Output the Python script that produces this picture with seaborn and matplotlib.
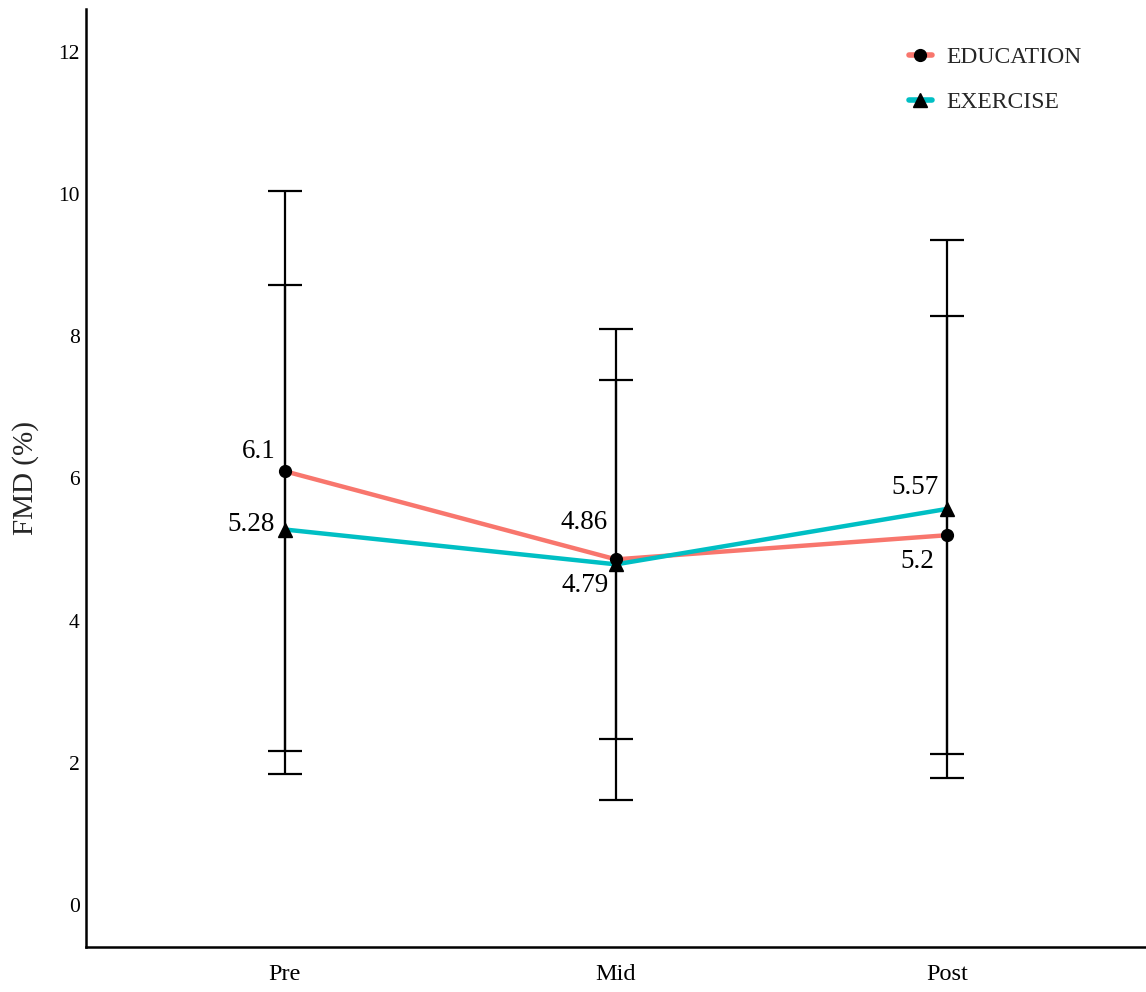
import matplotlib.pyplot as plt
import seaborn as sns
import pandas as pd
from matplotlib.lines import Line2D

# data
time_points = ['Pre', 'Mid', 'Post']
education_mean = [6.1, 4.86, 5.2]
education_sd = [3.94, 2.52, 3.08]
exercise_mean = [5.28, 4.79, 5.57]
exercise_sd = [3.44, 3.31, 3.78]
y_ticks = [0, 2, 4, 6, 8, 10, 12]

edu_color = '#F8766D'
exe_color = '#00BFC4'

df = pd.DataFrame({
    'Time': time_points * 2,
    'FMD': education_mean + exercise_mean,
    'SD': education_sd + exercise_sd,
    'Group': ['EDUCATION'] * 3 + ['EXERCISE'] * 3,
})

sns.set_style('white')
plt.rcParams['font.family'] = ['Liberation Serif', 'DejaVu Serif']

fig = plt.figure(figsize=(11.46, 9.92), dpi=100)
ax = fig.add_axes([0.075, 0.0454, 0.925, 0.9456])

# error bars (one per group)
for grp in ['EDUCATION', 'EXERCISE']:
    sub = df[df['Group'] == grp]
    ax.errorbar(sub['Time'], sub['FMD'], yerr=sub['SD'], fmt='none',
                ecolor='black', elinewidth=1.6, capsize=12.5, capthick=1.6, zorder=1)

sns.lineplot(data=df, x='Time', y='FMD', hue='Group', sort=False,
             palette={'EDUCATION': edu_color, 'EXERCISE': exe_color},
             linewidth=3.2, legend=False, ax=ax, zorder=2)

edu = df[df['Group'] == 'EDUCATION']
exe = df[df['Group'] == 'EXERCISE']
ax.plot(edu['Time'], edu['FMD'], 'o', color='black', markersize=8.5, linestyle='none', zorder=3)
ax.plot(exe['Time'], exe['FMD'], '^', color='black', markersize=9.5, linestyle='none', zorder=3)

# value labels (offset in pixels: dx, dy)
edu_off = [(-9, 20), (-8, 37), (-13, -26)]
exe_off = [(-10, 5), (-7, -21), (-9, 21)]
for i, t in enumerate(time_points):
    for means, offs in ((education_mean, edu_off), (exercise_mean, exe_off)):
        ax.annotate(f'{means[i]:g}', (i, means[i]), xytext=offs[i], textcoords='offset pixels',
                    ha='right', va='center', fontsize=19.5, color='black')

ax.set_xlim(-0.6, 2.6)
ax.set_ylim(-0.59, 12.6)
ax.set_yticks(y_ticks)
ax.set_xlabel('')
ax.set_ylabel('FMD (%)', fontsize=21, labelpad=14)

for side in ['top', 'right']:
    ax.spines[side].set_visible(False)
for side in ['left', 'bottom']:
    ax.spines[side].set_linewidth(1.8)
    ax.spines[side].set_color('black')

ax.tick_params(axis='both', direction='out', length=3.5, width=1.5, color='#333333',
               labelcolor='black')
ax.tick_params(axis='x', pad=9, labelsize=17.5)
ax.tick_params(axis='y', pad=1, labelsize=15.5)

handles = [
    Line2D([0], [0], color=edu_color, linewidth=4, marker='o', markersize=8.5,
           markerfacecolor='black', markeredgecolor='black'),
    Line2D([0], [0], color=exe_color, linewidth=4, marker='^', markersize=9.5,
           markerfacecolor='black', markeredgecolor='black'),
]
ax.legend(handles, ['EDUCATION', 'EXERCISE'], loc='upper left', bbox_to_anchor=(0.776, 0.96),
          borderaxespad=0, borderpad=0, frameon=False, fontsize=17,
          handlelength=1.0, handletextpad=0.6, labelspacing=1.0)

fig.savefig('out.png', dpi=100)
plt.close(fig)
